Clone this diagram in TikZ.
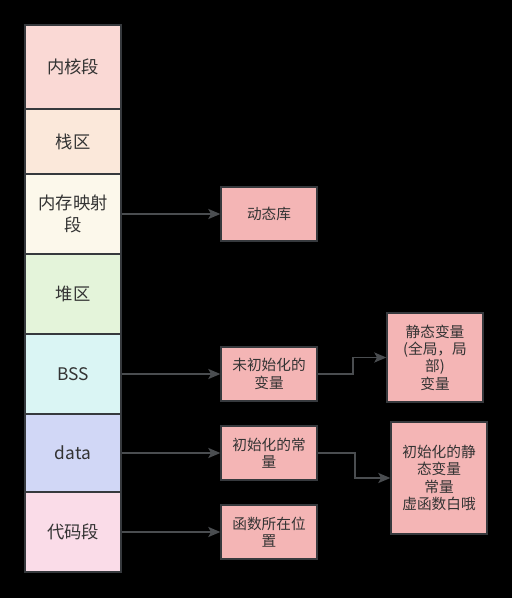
\documentclass[tikz,border=0pt]{standalone}
\usepackage{fontspec}
\setmainfont{Noto Sans CJK SC}
\usetikzlibrary{arrows.meta,calc}
\definecolor{mline}{HTML}{36393D}
\definecolor{mtext}{HTML}{333333}
\definecolor{mkern}{HTML}{FAD9D5}
\definecolor{mstack}{HTML}{FBE8DA}
\definecolor{mmap}{HTML}{FCF8EB}
\definecolor{mheap}{HTML}{E4F4DA}
\definecolor{mbss}{HTML}{DAF5F4}
\definecolor{mdata}{HTML}{D1D7F6}
\definecolor{mcode}{HTML}{FADCE8}
\definecolor{mpink}{HTML}{F4B5B5}
\tikzset{
  seg/.style={draw=mline,line width=1.1pt,text=mtext,align=center,font=\fontsize{13}{17}\selectfont,inner sep=0pt,minimum width=72pt},
  note/.style={draw=mline,fill=mpink,line width=1pt,text=mtext,align=center,font=\fontsize{11}{13}\selectfont,inner sep=0pt,minimum width=72pt},
  arr/.style={-{Stealth[length=9pt,width=7.5pt,inset=2pt]},line width=1.4pt,draw=mline!90!white},
}
\begin{document}
\begin{tikzpicture}[x=0.75pt,y=-0.75pt]
  \fill[black] (0,0) rectangle (512,598);
  \useasboundingbox (0,0) rectangle (512,598);
  % memory layout column
  \foreach \n/\t/\b/\c/\s in {kern/25/109/mkern/内核段, stack/109/174/mstack/栈区,
      mmap/174/254/mmap/{内存映射\\段}, heap/254/334/mheap/堆区, bss/334/414/mbss/BSS,
      data/414/492/mdata/data, code/492/572/mcode/代码段} {
    \node[seg,fill=\c,minimum height={(\b-\t)*0.75pt}] (\n) at (73,{(\t+\b)/2}) {\s};
  }
  % what lives in each segment
  \node[note,minimum height=40.5pt] (dyn) at (269,214) {动态库};
  \node[note,minimum height=40.5pt] (uninit) at (269,374) {未初始化的\\变量};
  \node[note,minimum height=40.5pt] (init) at (269,453) {初始化的常\\量};
  \node[note,minimum height=40.5pt] (func) at (269,532) {函数所在位\\置};
  \node[note,minimum height=66.75pt] (stat) at (435,357.5) {静态变量\\(全局，局\\部)\\变量};
  \node[note,minimum height=84pt] (istat) at (439,478) {初始化的静\\态变量\\常量\\虚函数白哦};
  \draw[arr] (mmap.east) -- (dyn.west);
  \draw[arr] (bss.east) -- (uninit.west);
  \draw[arr] (data.east) -- (init.west);
  \draw[arr] (code.east) -- (func.west);
  \draw[arr] (uninit.east) -- ++(35,0) |- (stat.west);
  \draw[arr] (init.east) -- ++(37,0) |- (istat.west);
\end{tikzpicture}
\end{document}
